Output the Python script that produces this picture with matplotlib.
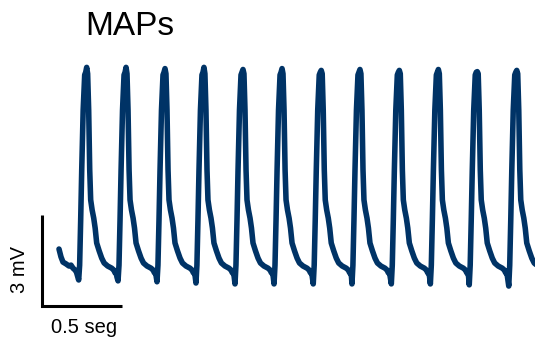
import numpy as np
import matplotlib.pyplot as plt

plt.rcParams['font.family'] = ['Liberation Sans', 'DejaVu Sans']

# trace start (s, mV) before the first beat
start_t = [0.000, 0.0125, 0.025, 0.044, 0.0625, 0.075, 0.0875, 0.100, 0.109, 0.116]
start_v = [1.12, 0.86, 0.69, 0.63, 0.56, 0.59, 0.49, 0.43, 0.36, 0.23]

# peak time (s), peak level and trough level (mV) of each beat
peak_t = [0.173, 0.419, 0.6625, 0.906, 1.150, 1.394, 1.639, 1.881, 2.127, 2.371, 2.614, 2.861]
peak_v = [7.11, 7.11, 7.07, 7.11, 7.04, 7.07, 7.01, 7.04, 7.01, 7.04, 6.97, 7.01]
trough_v = [0.10, 0.07, 0.04, 0.0, -0.03, -0.03, -0.03, -0.03, -0.03, -0.03, -0.06, -0.10]

# shape of one MAP around its peak (ms from peak, mV)
rise_ms = [-44, -37.5, -31, -22, -12.5, -6]
rise_v = [0.59, 2.08, 3.73, 5.70, 6.86, 6.95]
decay_ms = [6, 12.5, 19, 25, 34, 44, 53, 62.5, 78, 94, 109, 131, 156, 169, 178, 183, 189]
decay_v = [6.9, 5.70, 3.73, 2.74, 2.41, 2.14, 1.81, 1.32, 1.06, 0.82, 0.66, 0.56, 0.49, 0.43, 0.33, 0.40, 0.20]
trough_ms = -50

t = list(start_t)
v = list(start_v)
for i in range(len(peak_t)):
    last = i == len(peak_t) - 1
    n_dec = 12 if last else len(decay_ms)
    bt = [trough_ms] + rise_ms + [0] + decay_ms[:n_dec]
    bv = [trough_v[i]] + rise_v + [peak_v[i]] + decay_v[:n_dec]
    t += [peak_t[i] + x / 1000 for x in bt]
    v += bv
t = np.array(t)
v = np.array(v)

fig = plt.figure(figsize=(5.35, 3.4), dpi=100)
ax = fig.add_axes([0, 0, 1, 1])
ax.plot(t, v, color='#003366', lw=4.0, solid_joinstyle='round', solid_capstyle='round')

# scale bars
bar_t = -0.10625
bar_v = -0.758
ax.plot([bar_t, bar_t, bar_t + 0.5], [bar_v + 3, bar_v, bar_v], color='k', lw=2.2,
        solid_joinstyle='miter', solid_capstyle='butt')
ax.text(bar_t - 0.14, 0.43, '3 mV', rotation=90, ha='center', va='center', fontsize=14.5)
ax.text(0.159, -1.65, '0.5 seg', ha='center', va='baseline', fontsize=14.5)
ax.text(0.1625, 8.18, 'MAPs', ha='left', va='baseline', fontsize=24)

ax.set_xlim(-0.36875, 2.975)
ax.set_ylim(-1.879, 9.331)
ax.axis('off')

fig.savefig('out.png', dpi=100)
